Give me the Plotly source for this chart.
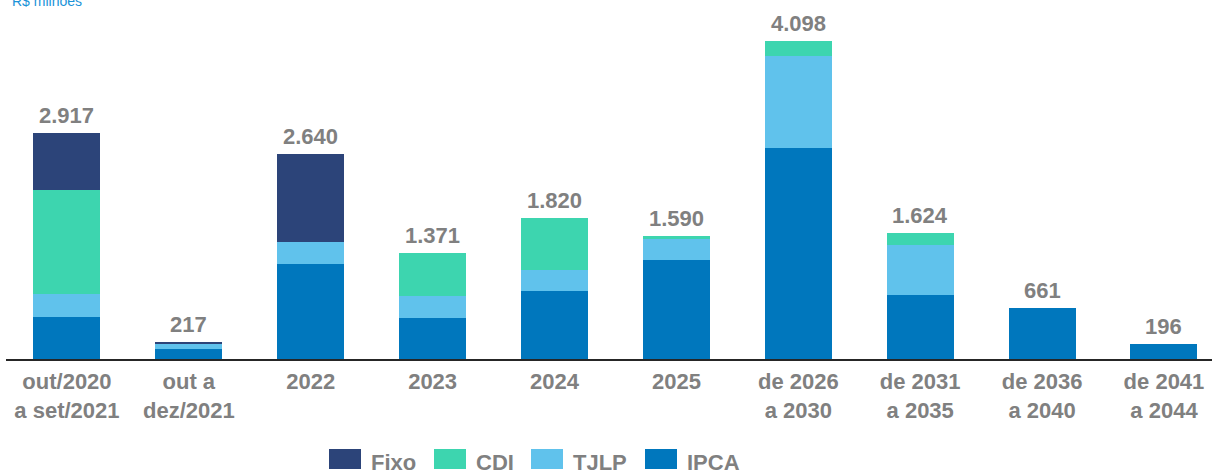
"""Dívida por vencimento e indexador (R$ milhões)."""

import plotly.graph_objects as go

categories = [
    "out/2020<br>a set/2021",
    "out a<br>dez/2021",
    "2022",
    "2023",
    "2024",
    "2025",
    "de 2026<br>a 2030",
    "de 2031<br>a 2035",
    "de 2036<br>a 2040",
    "de 2041<br>a 2044",
]
ipca = [545, 135, 1228, 525, 876, 1276, 2723, 829, 661, 196]
tjlp = [292, 70, 280, 284, 271, 267, 1178, 640, 0, 0]
cdi = [1340, 0, 0, 562, 673, 47, 197, 155, 0, 0]
fixo = [740, 12, 1132, 0, 0, 0, 0, 0, 0, 0]

series = [
    ("IPCA", ipca, "#0077BD"),
    ("TJLP", tjlp, "#60C2EC"),
    ("CDI", cdi, "#3DD5AF"),
    ("Fixo", fixo, "#2C4479"),
]

FONT = "Arial, Liberation Sans, sans-serif"
GRAY = "#808080"

WIDTH, HEIGHT = 1212, 470
MARGIN = dict(l=6, r=0, t=20, b=111)
PLOT_W = WIDTH - MARGIN["l"] - MARGIN["r"]
PLOT_H = HEIGHT - MARGIN["t"] - MARGIN["b"]


def px_x(px: float) -> float:
    return (px - MARGIN["l"]) / PLOT_W


def px_y(px: float) -> float:
    return (HEIGHT - MARGIN["b"] - px) / PLOT_H


fig = go.Figure()

for name, values, color in series:
    fig.add_trace(
        go.Bar(
            x=list(range(len(categories))),
            y=values,
            name=name,
            marker=dict(color=color, line=dict(width=0)),
            hoverinfo="skip",
        )
    )

totals = [sum(v) for v in zip(ipca, tjlp, cdi, fixo)]
for i, total in enumerate(totals):
    fig.add_annotation(
        x=i,
        y=total,
        text=f"{total:,}".replace(",", "."),
        showarrow=False,
        yanchor="bottom",
        yshift=3,
        font=dict(family=FONT, size=22, color=GRAY, weight="bold"),
    )

# unit label, cut by the top edge as in the source
fig.add_annotation(
    xref="paper",
    yref="paper",
    x=0,
    y=1,
    xanchor="left",
    yanchor="bottom",
    xshift=4,
    yshift=9,
    text="R$ milhões",
    showarrow=False,
    font=dict(family=FONT, size=14, color="#1B93D8"),
)

# custom legend with wide swatches
legend_items = [("Fixo", "#2C4479", 329), ("CDI", "#3DD5AF", 434),
                ("TJLP", "#60C2EC", 531), ("IPCA", "#0077BD", 645)]
for name, color, x0 in legend_items:
    fig.add_shape(
        type="rect",
        xref="paper",
        yref="paper",
        x0=px_x(x0),
        x1=px_x(x0 + 32),
        y0=px_y(469),
        y1=px_y(449),
        fillcolor=color,
        line=dict(width=0),
    )
    fig.add_annotation(
        xref="paper",
        yref="paper",
        x=px_x(x0 + 40),
        y=px_y(462),
        xanchor="left",
        yanchor="middle",
        text=name,
        showarrow=False,
        font=dict(family=FONT, size=22, color=GRAY, weight="bold"),
    )

fig.update_layout(
    barmode="stack",
    bargap=0.45,
    width=WIDTH,
    height=HEIGHT,
    margin=MARGIN,
    plot_bgcolor="white",
    paper_bgcolor="white",
    showlegend=False,
    font=dict(family=FONT),
)
fig.update_xaxes(
    range=[-0.5, 9.394],
    tickmode="array",
    tickvals=list(range(len(categories))),
    ticktext=categories,
    showline=True,
    linecolor="#262626",
    linewidth=2,
    ticks="",
    tickfont=dict(family=FONT, size=22, color=GRAY, weight="bold"),
    ticklabelstandoff=2,
)
fig.update_yaxes(
    range=[0, 4369],
    visible=False,
)

fig.write_html(
    "out.html",
    config={"displayModeBar": False},
    post_script="document.body.style.margin='0px';",
)
